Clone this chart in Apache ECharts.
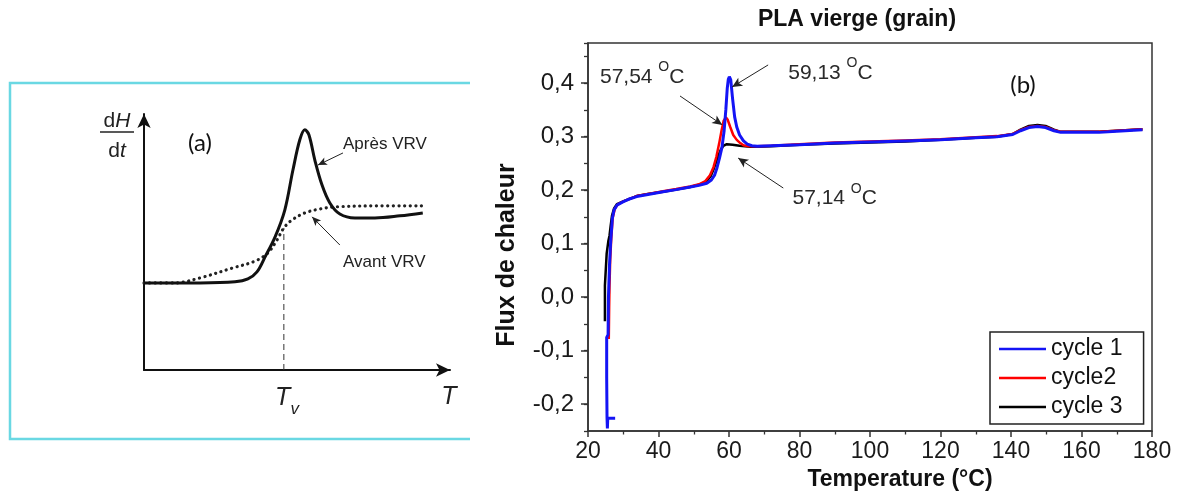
<!DOCTYPE html>
<html>
<head>
<meta charset="utf-8">
<script src="https://cdn.jsdelivr.net/npm/echarts@6/dist/echarts.min.js"></script>
<style>
  html, body { margin: 0; padding: 0; background: #fff; }
  #chart { width: 1178px; height: 493px; }
</style>
</head>
<body>
<div id="chart"></div>
<script>
// ---- Panel (a): schematic dH/dt vs T around the glass transition (arbitrary units) ----
const apresVRV = [
  [0, 33.1], [17.9, 33.1], [29.1, 33.5], [33.2, 34.6], [36.1, 37.3], [38.7, 43.0],
  [41.9, 50.6], [45.0, 60.8], [47.6, 76.0], [49.8, 87.5], [51.4, 91.3], [52.7, 89.4],
  [54.6, 79.8], [56.9, 70.3], [59.4, 63.5], [62.6, 59.3], [67.4, 57.8], [73.8, 57.8],
  [81.8, 58.6], [89.1, 59.7]
];
const avantVRV = [
  [0, 33.1], [9.9, 33.1], [17.9, 35.0], [28.4, 38.8], [35.5, 41.4], [39.6, 44.5],
  [42.5, 49.4], [44.7, 54.0], [47.3, 57.0], [51.4, 59.7], [56.2, 61.2], [61.0, 62.0],
  [75.4, 62.4], [89.1, 62.4]
];
const tvT = 44.7;       // T_v on the schematic T axis
const tvLevel = 54.0;   // dotted curve height at T_v

// ---- Panel (b): DSC heat flow of virgin PLA (granules), three heating cycles ----
const cycle1 = [
  [27.7, -0.226], [25.6, -0.226], [25.5, -0.245], [25.4, -0.226], [25.3, -0.15], [25.3, -0.075],
  [25.7, -0.07], [25.8, 0.0], [26.1, 0.06], [26.4, 0.10], [26.9, 0.147], [27.4, 0.163],
  [28.2, 0.172], [29.9, 0.178], [31.5, 0.183], [33.8, 0.188], [37, 0.192], [41.3, 0.197],
  [45, 0.201], [49, 0.206], [51.5, 0.209], [53.7, 0.213], [55.0, 0.219], [55.9, 0.228],
  [56.6, 0.242], [57.3, 0.260], [58.0, 0.280], [58.6, 0.31], [59.1, 0.35], [59.5, 0.39],
  [59.8, 0.407], [60.1, 0.412], [60.5, 0.406], [61.0, 0.372], [61.6, 0.337], [62.2, 0.318],
  [63.0, 0.303], [64.1, 0.292], [65.2, 0.286], [66.5, 0.283], [68, 0.282], [72, 0.283],
  [80, 0.285], [90, 0.288], [100, 0.290], [110, 0.292], [120, 0.294], [130, 0.298],
  [136, 0.300], [140.5, 0.304], [142.7, 0.311], [145.1, 0.317], [147.5, 0.319], [149.8, 0.317],
  [152.2, 0.311], [154.1, 0.308], [160, 0.308], [165, 0.308], [170, 0.310], [177.3, 0.313]
];
const cycle2 = [
  [25.9, -0.078], [26.0, -0.02], [26.1, 0.02], [26.3, 0.07], [26.6, 0.11], [27.0, 0.148],
  [27.6, 0.165], [28.4, 0.173], [30, 0.179], [33.8, 0.189], [37, 0.193], [41.3, 0.198],
  [45, 0.202], [49, 0.207], [51.5, 0.211], [53.3, 0.217], [54.6, 0.228], [55.6, 0.243],
  [56.4, 0.262], [57.2, 0.287], [57.9, 0.312], [58.5, 0.330], [59.1, 0.336], [59.6, 0.332],
  [60.3, 0.319], [61.2, 0.303], [62.2, 0.294], [63.2, 0.288], [64.1, 0.284], [65.5, 0.282],
  [68, 0.282], [72, 0.283], [80, 0.286], [90, 0.289], [100, 0.291], [110, 0.293],
  [120, 0.295], [130, 0.299], [136, 0.301], [140.5, 0.305], [142.7, 0.312], [145.1, 0.318],
  [147.5, 0.320], [149.8, 0.318], [152.2, 0.312], [154.1, 0.309], [160, 0.309], [165, 0.309],
  [170, 0.311], [177.3, 0.314]
];
const cycle3 = [
  [24.8, -0.045], [24.8, 0.022], [25.3, 0.024], [25.3, 0.082], [25.8, 0.085], [25.8, 0.106],
  [26.1, 0.115], [26.4, 0.132], [26.8, 0.152], [27.4, 0.166], [28.2, 0.174], [30, 0.179],
  [33.8, 0.189], [37, 0.193], [41.3, 0.197], [45, 0.201], [49, 0.206], [51.5, 0.210],
  [53.5, 0.216], [54.8, 0.226], [55.8, 0.242], [56.8, 0.262], [57.7, 0.276], [58.4, 0.283],
  [59.4, 0.286], [61, 0.285], [63, 0.283], [66, 0.281], [68, 0.281], [72, 0.282],
  [80, 0.285], [90, 0.287], [100, 0.289], [110, 0.291], [120, 0.294], [130, 0.298],
  [136, 0.300], [140.5, 0.305], [142.7, 0.313], [145.1, 0.320], [147.5, 0.322], [149.8, 0.320],
  [152.2, 0.313], [154.1, 0.309], [160, 0.309], [165, 0.309], [170, 0.311], [177.3, 0.314]
];
const seriesNames = ['cycle 1', 'cycle2', 'cycle 3'];
const tgLabels = ['57,54', '59,13', '57,14'];
const tempRange = [20, 180];
const fluxRange = [-0.25, 0.475];
const fluxLabelRange = [-0.2, 0.4];

// ---- layout ----
const FONT = '"Liberation Sans", Arial, Helvetica, sans-serif';
const INK = '#1a1a1a';
const AXIS = '#333';
const gridB = { left: 588, top: 43, width: 564, height: 388 };
const pxPerFlux = gridB.height / (fluxRange[1] - fluxRange[0]);
// a second grid, aligned on the same scale, carries the labelled (longer) y ticks
const gridBMajor = {
  left: gridB.left, width: gridB.width,
  top: gridB.top + (fluxRange[1] - fluxLabelRange[1]) * pxPerFlux,
  height: (fluxLabelRange[1] - fluxLabelRange[0]) * pxPerFlux
};

const fmtComma = v => {
  const k = Math.round(v * 10);
  return (k / 10).toFixed(1).replace('.', ',');
};

const chart = echarts.init(document.getElementById('chart'), null, { renderer: 'canvas' });

const tgRich = {
  t: { fontSize: 21, lineHeight: 33, color: '#2a2a2a', fontFamily: FONT },
  s: { fontSize: 14, lineHeight: 14, verticalAlign: 'top', color: '#2a2a2a', fontFamily: FONT }
};

const option = {
  backgroundColor: '#fff',
  animation: false,
  grid: [
    { left: gridB.left, top: gridB.top, width: gridB.width, height: gridB.height,
      show: true, borderColor: AXIS, borderWidth: 1.5, backgroundColor: 'transparent',
      outerBoundsMode: 'none', containLabel: false },
    { left: 144, top: 114, width: 306, height: 256, outerBoundsMode: 'none', containLabel: false },
    { left: gridBMajor.left, top: gridBMajor.top, width: gridBMajor.width, height: gridBMajor.height,
      outerBoundsMode: 'none', containLabel: false }
  ],
  xAxis: [
    {
      gridIndex: 0, type: 'value', min: tempRange[0], max: tempRange[1], interval: 20,
      axisLine: { show: true, onZero: false, lineStyle: { color: AXIS, width: 1.5 } },
      axisTick: { show: true, inside: false, length: 6, lineStyle: { color: AXIS, width: 1.5 } },
      minorTick: { show: true, splitNumber: 2, length: 3.5, lineStyle: { color: AXIS, width: 1.3 } },
      axisLabel: { fontSize: 23, color: INK, margin: 9, fontFamily: FONT },
      splitLine: { show: false }, minorSplitLine: { show: false },
      name: 'Temperature (°C)', nameLocation: 'middle', nameGap: 36,
      nameTextStyle: { fontSize: 23, fontWeight: 'bold', color: '#111', fontFamily: FONT, padding: [0, 0, 0, 60] }
    },
    {
      gridIndex: 1, type: 'value', min: 0, max: 97.8,
      axisLine: { show: true, onZero: false, symbol: ['none', 'arrow'], symbolSize: [10, 14],
        lineStyle: { color: '#111', width: 2 } },
      axisTick: { show: false }, axisLabel: { show: false }, splitLine: { show: false }
    },
    {
      gridIndex: 2, type: 'value', min: tempRange[0], max: tempRange[1], show: false
    }
  ],
  yAxis: [
    {
      gridIndex: 0, type: 'value', min: fluxRange[0], max: fluxRange[1], interval: 0.05,
      axisLine: { show: true, onZero: false, lineStyle: { color: AXIS, width: 1.5 } },
      axisTick: { show: true, inside: false, length: 4, lineStyle: { color: AXIS, width: 1.3 } },
      axisLabel: { show: false },
      splitLine: { show: false },
      name: 'Flux de chaleur', nameLocation: 'middle', nameGap: 68,
      nameTextStyle: { fontSize: 25, fontWeight: 'bold', color: '#111', fontFamily: FONT, padding: [0, 36, 0, 0] }
    },
    {
      gridIndex: 1, type: 'value', min: 0, max: 97.3,
      axisLine: { show: true, onZero: false, symbol: ['none', 'arrow'], symbolSize: [10, 14],
        lineStyle: { color: '#111', width: 2 } },
      axisTick: { show: false }, axisLabel: { show: false }, splitLine: { show: false }
    },
    {
      gridIndex: 2, type: 'value', min: fluxLabelRange[0], max: fluxLabelRange[1], interval: 0.1,
      axisLine: { show: false },
      axisTick: { show: true, inside: false, length: 7, lineStyle: { color: AXIS, width: 1.5 } },
      axisLabel: { fontSize: 24, color: INK, margin: 14, fontFamily: FONT, formatter: fmtComma },
      splitLine: { show: false }
    }
  ],
  legend: {
    data: seriesNames,
    orient: 'vertical', left: 990, top: 332,
    icon: 'rect', itemWidth: 47, itemHeight: 2.5, itemGap: 5,
    padding: [5, 21, 5, 9],
    borderColor: '#222', borderWidth: 1.5, backgroundColor: '#fff',
    textStyle: { fontSize: 23, lineHeight: 24, color: '#111', fontFamily: FONT },
    selectedMode: false
  },
  series: [
    // ---- panel (b) ----
    {
      name: 'cycle 3', type: 'line', xAxisIndex: 0, yAxisIndex: 0, data: cycle3,
      showSymbol: false, symbol: 'none', silent: true,
      itemStyle: { color: '#000' }, lineStyle: { color: '#000', width: 2.5 }
    },
    {
      name: 'cycle2', type: 'line', xAxisIndex: 0, yAxisIndex: 0, data: cycle2,
      showSymbol: false, symbol: 'none', silent: true,
      itemStyle: { color: '#ff0000' }, lineStyle: { color: '#ff0000', width: 2.5 }
    },
    {
      name: 'cycle 1', type: 'line', xAxisIndex: 0, yAxisIndex: 0, data: cycle1,
      showSymbol: false, symbol: 'none', silent: true,
      itemStyle: { color: '#1414f5' }, lineStyle: { color: '#1414f5', width: 3 },
      markLine: {
        silent: true, symbol: ['none', 'arrow'], symbolSize: [7, 10],
        label: { show: false },
        lineStyle: { color: '#222', width: 1, type: 'solid' },
        emphasis: { disabled: true },
        data: [
          [{ coord: [71.1, 0.434] }, { coord: [60.9, 0.393] }],
          [{ coord: [46.1, 0.376] }, { coord: [58.1, 0.322] }],
          [{ coord: [75.4, 0.204] }, { coord: [62.6, 0.260] }]
        ]
      },
      markPoint: {
        silent: true, symbol: 'circle', symbolSize: 0,
        itemStyle: { color: 'transparent' },
        label: {
          show: true, position: 'right', distance: 0,
          formatter: p => `{t|${p.name} }{s|O}{t|C}`,
          rich: tgRich
        },
        data: [
          { name: tgLabels[0], coord: [23.4, 0.412] },
          { name: tgLabels[1], coord: [76.8, 0.419] },
          { name: tgLabels[2], coord: [78.0, 0.185] }
        ]
      }
    },
    // ---- panel (a) ----
    {
      name: 'Avant VRV', type: 'line', xAxisIndex: 1, yAxisIndex: 1, data: avantVRV,
      smooth: 0.35, showSymbol: false, symbol: 'none', silent: true,
      lineStyle: { color: '#222', width: 3.2, type: [0.1, 5.5], cap: 'round' }
    },
    {
      name: 'Tv', type: 'line', xAxisIndex: 1, yAxisIndex: 1,
      data: [[tvT, 0], [tvT, tvLevel]],
      showSymbol: false, symbol: 'none', silent: true,
      lineStyle: { color: '#333', width: 1, type: [6, 4] }
    },
    {
      name: 'Après VRV', type: 'line', xAxisIndex: 1, yAxisIndex: 1, data: apresVRV,
      smooth: 0.35, showSymbol: false, symbol: 'none', silent: true,
      lineStyle: { color: '#111', width: 3 },
      markLine: {
        silent: true, symbol: ['none', 'arrow'], symbolSize: [6, 9],
        label: { show: false },
        lineStyle: { color: '#222', width: 1, type: 'solid' },
        emphasis: { disabled: true },
        data: [
          [{ coord: [63.6, 82.5] }, { coord: [55.6, 77.9] }],
          [{ coord: [62.6, 47.5] }, { coord: [53.7, 58.2] }]
        ]
      },
      markPoint: {
        silent: true, symbol: 'circle', symbolSize: 0,
        itemStyle: { color: 'transparent' },
        label: { show: true, position: 'right', distance: 0, formatter: p => p.name,
          fontSize: 17, color: '#222', fontFamily: FONT },
        data: [
          { name: 'Après VRV', coord: [63.6, 85.6] },
          { name: 'Avant VRV', coord: [63.6, 41.1] }
        ]
      }
    }
  ],
  graphic: {
    elements: [
      // frame around panel (a)
      { type: 'polyline', silent: true,
        shape: { points: [[470, 83], [10, 83], [10, 439], [470, 439]] },
        style: { stroke: '#6ad8e3', lineWidth: 2.5, fill: null } },
      // panel (b) title
      { type: 'text', x: 857, y: 20, silent: true,
        style: { text: 'PLA vierge (grain)', fontSize: 23, fontWeight: 'bold', fontFamily: FONT,
          fill: '#111', align: 'center', verticalAlign: 'middle' } },
      // panel tags
      { type: 'text', x: 200, y: 143, silent: true,
        style: { text: '(a)', fontSize: 24, fontFamily: 'Lato, "Open Sans", sans-serif', fill: '#111',
          align: 'center', verticalAlign: 'middle' } },
      { type: 'text', x: 1023, y: 85, silent: true,
        style: { text: '(b)', fontSize: 24, fontFamily: 'Lato, "Open Sans", sans-serif', fill: '#111',
          align: 'center', verticalAlign: 'middle' } },
      // dH/dt axis title of panel (a)
      { type: 'text', x: 117, y: 121, silent: true,
        style: { text: '{r|d}{i|H}', align: 'center', verticalAlign: 'middle',
          rich: { r: { fontSize: 21, fontFamily: FONT, fill: '#222' },
                  i: { fontSize: 21, fontFamily: FONT, fontStyle: 'italic', fill: '#222' } } } },
      { type: 'line', silent: true, shape: { x1: 100, y1: 132, x2: 134, y2: 132 },
        style: { stroke: '#222', lineWidth: 1.5 } },
      { type: 'text', x: 117, y: 151, silent: true,
        style: { text: '{r|d}{i|t}', align: 'center', verticalAlign: 'middle',
          rich: { r: { fontSize: 21, fontFamily: FONT, fill: '#222' },
                  i: { fontSize: 21, fontFamily: FONT, fontStyle: 'italic', fill: '#222' } } } },
      // T axis title and T_v of panel (a)
      { type: 'text', x: 449, y: 397, silent: true,
        style: { text: 'T', fontSize: 25, fontStyle: 'italic', fontFamily: FONT, fill: '#222',
          align: 'center', verticalAlign: 'middle' } },
      { type: 'text', x: 287, y: 398, silent: true,
        style: { text: '{i|T}{sub|v}', align: 'center', verticalAlign: 'middle',
          rich: { i: { fontSize: 25, lineHeight: 40, fontStyle: 'italic', fontFamily: FONT, fill: '#222' },
                  sub: { fontSize: 17, lineHeight: 14, verticalAlign: 'bottom', fontStyle: 'italic',
                    fontFamily: FONT, fill: '#222' } } } }
    ]
  }
};

chart.setOption(option);
</script>
</body>
</html>
